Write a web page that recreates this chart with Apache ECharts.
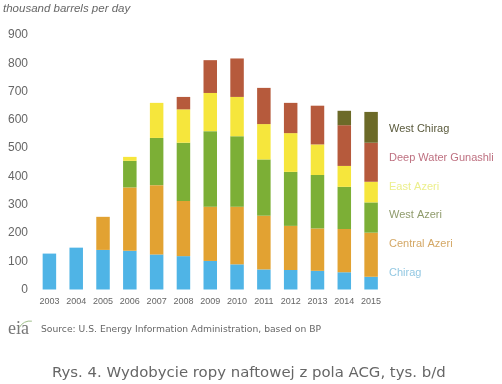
<!DOCTYPE html>
<html><head><meta charset="utf-8">
<script src="https://cdn.jsdelivr.net/npm/echarts@6/dist/echarts.min.js"></script>
<style>html,body{margin:0;padding:0;background:#fff}#c{width:502px;height:384px}</style>
</head><body><div id="c"></div>
<script>
const years = ['2003','2004','2005','2006','2007','2008','2009','2010','2011','2012','2013','2014','2015'];
const chirag       = [127,148,140,137,124,118,101, 89, 71, 69, 66, 61, 45];
const centralAzeri = [null,null,117,224,245,195,192,204,190,156,150,153,156];
const westAzeri    = [null,null,null, 94,167,206,267,249,199,191,189,149,107];
const eastAzeri    = [null,null,null, 14,124,118,135,139,125,137,108, 74, 73];
const deepWaterGunashli = [null,null,null,null,null, 44,116,136,128,107,137,144,138];
const westChirag   = [null,null,null,null,null,null,null,null,null,null,null, 51,109];
const yTicks = [0,100,200,300,400,500,600,700,800,900];

const seriesDefs = [
  {name:'Chirag', data:chirag, color:'#4fb4e6', text:'#93c8e2'},
  {name:'Central Azeri', data:centralAzeri, color:'#e2a232', text:'#d4a866'},
  {name:'West Azeri', data:westAzeri, color:'#7caf36', text:'#8f9b6c'},
  {name:'East Azeri', data:eastAzeri, color:'#f6e63c', text:'#ecef8c'},
  {name:'Deep Water Gunashli', data:deepWaterGunashli, color:'#b65a3c', text:'#be7080'},
  {name:'West Chirag', data:westChirag, color:'#6c6a28', text:'#5a5a3c'}
];

const chart = echarts.init(document.getElementById('c'), null, {renderer:'canvas'});
chart.setOption({
  animation:false,
  backgroundColor:'#fff',
  textStyle:{fontFamily:'Liberation Sans, Arial, sans-serif'},
  grid:{left:36, right:117.5, top:35, bottom:94.5, containLabel:false},
  legend:{
    orient:'vertical', left:384, top:122, icon:'none', itemWidth:0, itemHeight:14, itemGap:14.8,
    selectedMode:false, padding:0,
    textStyle:{fontSize:11, lineHeight:14, padding:0},
    data: seriesDefs.slice().reverse().map(s=>({name:s.name, textStyle:{color:s.text}}))
  },
  xAxis:{
    type:'category', data:years,
    axisLine:{show:false}, axisTick:{show:false},
    axisLabel:{fontSize:9, color:'#666', margin:8, interval:0}
  },
  yAxis:{
    type:'value', min:0, max:900, interval:100,
    axisLine:{show:false}, axisTick:{show:false}, splitLine:{show:false},
    axisLabel:{fontSize:12, color:'#666', margin:8,
      formatter:v=>yTicks.includes(v)?String(v):''}
  },
  series: seriesDefs.map(s=>({
    name:s.name, type:'bar', stack:'acg', barWidth:13.5,
    itemStyle:{color:s.color}, data:s.data
  })),
  graphic:[
    {type:'text', left:3, top:3, style:{text:'thousand barrels per day', fontSize:11.5, fontStyle:'italic', fill:'#666', fontFamily:'Liberation Sans, Arial, sans-serif'}},
    {type:'text', left:8, top:320, style:{text:'eia', fontSize:18, fill:'#777', fontFamily:'Liberation Serif, DejaVu Serif, serif'}},
    {type:'arc', shape:{cx:30, cy:333, r:12, startAngle:-Math.PI*0.85, endAngle:-Math.PI*0.45}, style:{stroke:'#9fbf8a', lineWidth:1, fill:null}},
    {type:'text', left:41, top:325, style:{text:'Source: U.S. Energy Information Administration, based on BP', fontSize:9.2, fill:'#666', fontFamily:'DejaVu Sans, sans-serif'}},
    {type:'text', left:52, top:366, style:{text:'Rys. 4. Wydobycie ropy naftowej z pola ACG, tys. b/d', fontSize:14.9, fill:'#666', fontFamily:'DejaVu Sans, sans-serif'}}
  ]
});
</script></body></html>
